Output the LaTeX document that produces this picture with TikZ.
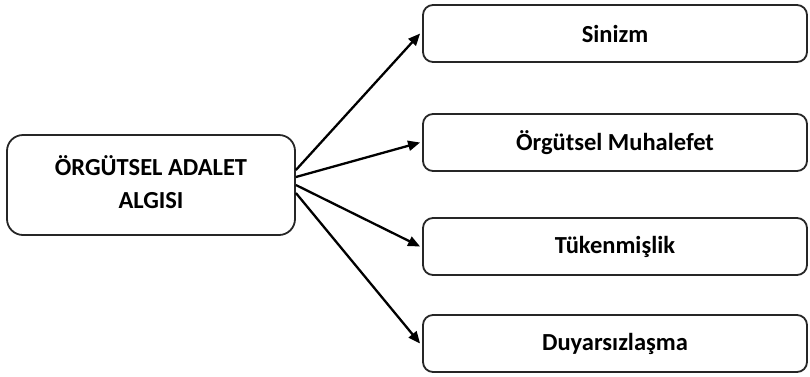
\documentclass[tikz,border=0pt]{standalone}
\usepackage{fontspec}
\setmainfont{Carlito}
\usetikzlibrary{arrows.meta}
\tikzset{
  srcbox/.style={draw=black!85, line width=1.8pt, rounded corners=16pt, minimum width=288pt, minimum height=100pt, inner sep=0pt, font=\bfseries\fontsize{24.5}{33}\selectfont},
  tgtbox/.style={draw=black!85, line width=1.8pt, rounded corners=10pt, minimum width=384pt, minimum height=57pt, inner sep=0pt, font=\bfseries\fontsize{24.5}{29}\selectfont},
  conn/.style={line width=2.3pt, -{Triangle[length=12pt,width=10pt]}}
}
\begin{document}
\begin{tikzpicture}[x=1pt,y=-1pt]
\useasboundingbox (0,0) rectangle (810,376);
\node[srcbox] (L) at (151,185) {\raisebox{4pt}{\begin{tabular}{@{}c@{}}ÖRGÜTSEL ADALET\\ALGISI\end{tabular}}};
\node[tgtbox] (A) at (615,33.5) {Sinizm};
\node[tgtbox] (B) at (615,142.5) {Örgütsel Muhalefet};
\node[tgtbox] (C) at (615,246.5) {Tükenmişlik};
\node[tgtbox] (D) at (615,343.5) {Duyarsızlaşma};
\draw[conn] ([yshift=15pt]L.east) -- ([xshift=-2pt]A.west);
\draw[conn] ([yshift=8pt]L.east) -- ([xshift=-2pt]B.west);
\draw[conn] (L.east) -- ([xshift=-2pt]C.west);
\draw[conn] ([yshift=-8pt]L.east) -- ([xshift=-2pt]D.west);
\end{tikzpicture}
\end{document}
